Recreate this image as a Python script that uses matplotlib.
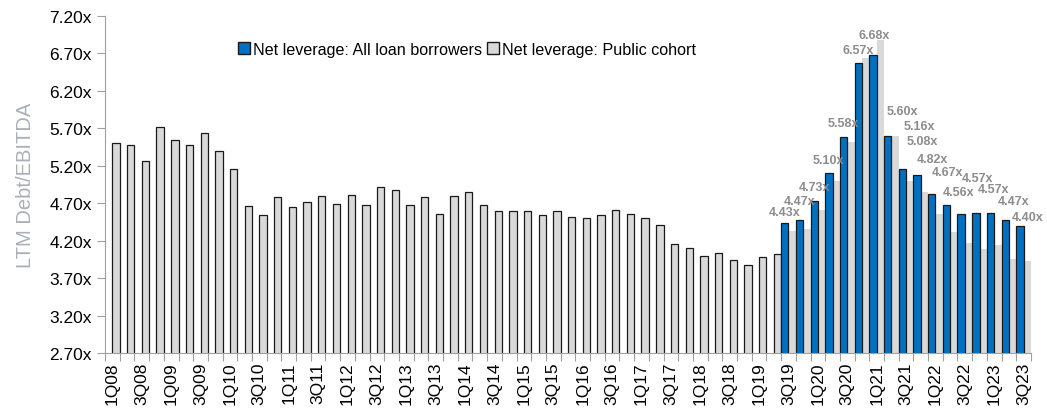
import numpy as np
import matplotlib
matplotlib.use("Agg")
import matplotlib.pyplot as plt
from matplotlib.patches import Patch

plt.rcParams['font.family'] = ['Liberation Sans Narrow', 'Liberation Sans', 'DejaVu Sans']

# quarters 1Q08 .. 3Q23
quarters = [f"{q}Q{y:02d}" for y in range(8, 24) for q in range(1, 5)][:-1]

# Net leverage: Public cohort (all quarters)
public = [5.50, 5.47, 5.26, 5.71, 5.54, 5.47, 5.63, 5.40,
          5.15, 4.66, 4.54, 4.78, 4.65, 4.72, 4.79, 4.69,
          4.81, 4.67, 4.91, 4.87, 4.67, 4.78, 4.56, 4.79,
          4.85, 4.67, 4.60, 4.59, 4.59, 4.54, 4.59, 4.52,
          4.50, 4.54, 4.61, 4.55, 4.50, 4.41, 4.16, 4.10,
          3.99, 4.04, 3.94, 3.88, 3.98, 4.02, 4.33, 4.36,
          4.61, 4.99, 5.51, 6.63, 6.87, 5.59, 5.00, 4.85,
          4.55, 4.31, 4.17, 4.09, 4.14, 3.95, 3.93]

# Net leverage: All loan borrowers (3Q19 .. 3Q23)
all_start = "3Q19"
all_loan = [4.43, 4.47, 4.73, 5.10, 5.58, 6.57, 6.68, 5.60, 5.16,
            5.08, 4.82, 4.67, 4.56, 4.57, 4.57, 4.47, 4.40]

# manual label nudges (pixels), as placed in the original
label_dx = [0, 0, 0, 0, 0, 0, 1, 15, 17, 5, 1, 1, -3, 2, 3, 8, 8]
label_dy = [11, 19, 14, 13, 14, 13, 20, 25, 43, 34, 35, 33, 22, 35, 24, 19, 9]

blue = "#0070C0"
grey = "#D9D9D9"
edge = "#1a1a1a"

fig = plt.figure(figsize=(10.47, 4.14), dpi=100)
ax = fig.add_axes([0.1003, 0.1449, 0.8844, 0.8148])

n = len(quarters)
x = np.arange(n)
s = quarters.index(all_start)
x_all = x[s:s + len(all_loan)]

# public cohort: outlined before 3Q19, plain afterwards
ax.bar(x[:s] + 0.5, public[:s], width=0.5, align='edge',
       color=grey, edgecolor=edge, linewidth=0.9, zorder=2)
ax.bar(x[s:] + 0.5, public[s:], width=0.5, align='edge',
       color=grey, edgecolor='none', zorder=2)
ax.bar(x_all, all_loan, width=0.5, align='edge',
       color=blue, edgecolor=edge, linewidth=0.9, zorder=3)

for i, (xi, v) in enumerate(zip(x_all, all_loan)):
    ax.annotate(f"{v:.2f}x", (xi + 0.25, v), xytext=(label_dx[i], label_dy[i]),
                textcoords='offset pixels', ha='center', va='center',
                fontsize=9, fontweight='bold', color='#8C8C8C', zorder=5)

ax.set_ylim(2.7, 7.2)
ax.set_xlim(0, n)
yt = np.arange(2.7, 7.21, 0.5)
ax.set_yticks(yt)
ax.set_yticklabels([f"{t:.2f}x" for t in yt], fontsize=12.5)

ax.set_xticks(np.arange(0, n + 1))
ax.set_xticklabels([])
ax.set_xticks(x[::2] + 0.5, minor=True)
ax.set_xticklabels(quarters[::2], minor=True, rotation=90, fontsize=12.5)
ax.tick_params(axis='x', which='minor', length=0, pad=6)
ax.tick_params(axis='x', which='major', length=6, color='#A0A0A0', direction='out')
ax.tick_params(axis='y', length=6, color='#A0A0A0', direction='out')

for side in ['top', 'right']:
    ax.spines[side].set_visible(False)
for side in ['left', 'bottom']:
    ax.spines[side].set_color('#A0A0A0')

ax.set_ylabel("LTM Debt/EBITDA", fontsize=14.5, color='#A9B0B8',
              family=['Liberation Sans', 'DejaVu Sans'], labelpad=10)

handles = [Patch(facecolor=blue, edgecolor=edge, label="Net leverage: All loan borrowers"),
           Patch(facecolor=grey, edgecolor=edge, label="Net leverage: Public cohort")]
fig.legend(handles=handles, loc='center left', bbox_to_anchor=(0.221, 0.879),
           ncol=2, frameon=False, fontsize=11.6, handlelength=0.75, handleheight=0.75,
           handletextpad=0.2, columnspacing=0.3, borderaxespad=0)

fig.savefig("out.png", dpi=100)
